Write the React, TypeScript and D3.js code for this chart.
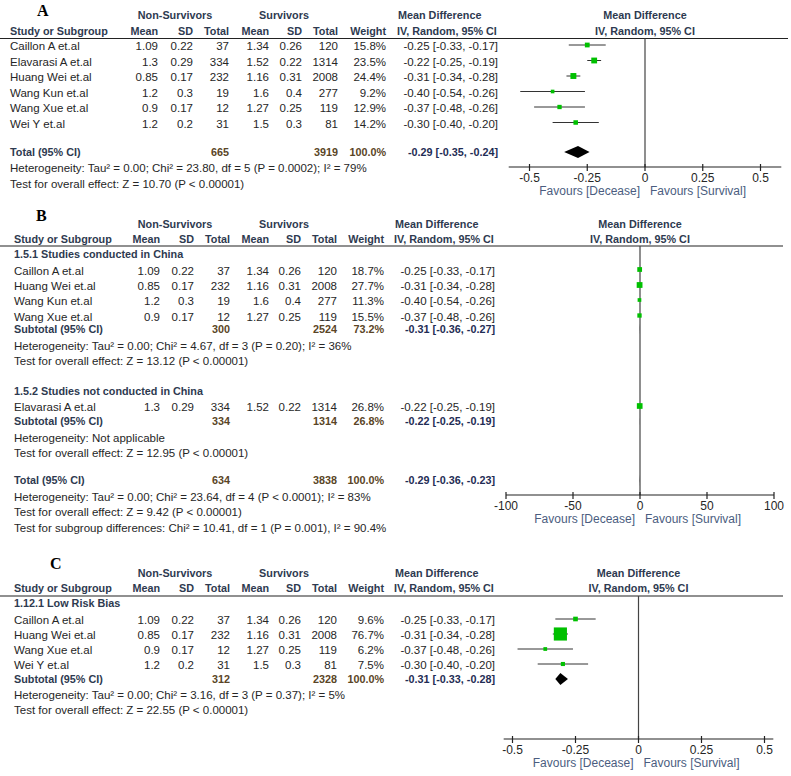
import React from 'react';
import * as d3 from 'd3';

// ---------- Panel A data ----------
const studiesA = ['Caillon A et.al', 'Elavarasi A et.al', 'Huang Wei et.al', 'Wang Kun et.al', 'Wang Xue et.al', 'Wei Y et.al'];
const nsMeanA = [1.09, 1.3, 0.85, 1.2, 0.9, 1.2];
const nsSdA = [0.22, 0.29, 0.17, 0.3, 0.17, 0.2];
const nsTotalA = [37, 334, 232, 19, 12, 31];
const sMeanA = [1.34, 1.52, 1.16, 1.6, 1.27, 1.5];
const sSdA = [0.26, 0.22, 0.31, 0.4, 0.25, 0.3];
const sTotalA = [120, 1314, 2008, 277, 119, 81];
const weightA = [15.8, 23.5, 24.4, 9.2, 12.9, 14.2];
const mdA = [-0.25, -0.22, -0.31, -0.4, -0.37, -0.3];
const loA = [-0.33, -0.25, -0.34, -0.54, -0.48, -0.4];
const hiA = [-0.17, -0.19, -0.28, -0.26, -0.26, -0.2];
const totalA = { nsTotal: 665, sTotal: 3919, weight: 100.0, md: -0.29, lo: -0.35, hi: -0.24 };
const notesA = [
  'Heterogeneity: Tau\u00B2 = 0.00; Chi\u00B2 = 23.80, df = 5 (P = 0.0002); I\u00B2 = 79%',
  'Test for overall effect: Z = 10.70 (P < 0.00001)',
];
const ticksA = [-0.5, -0.25, 0, 0.25, 0.5];

// ---------- Panel B data ----------
const groupB1 = '1.5.1 Studies conducted in China';
const studiesB1 = ['Caillon A et.al', 'Huang Wei et.al', 'Wang Kun et.al', 'Wang Xue et.al'];
const nsMeanB1 = [1.09, 0.85, 1.2, 0.9];
const nsSdB1 = [0.22, 0.17, 0.3, 0.17];
const nsTotalB1 = [37, 232, 19, 12];
const sMeanB1 = [1.34, 1.16, 1.6, 1.27];
const sSdB1 = [0.26, 0.31, 0.4, 0.25];
const sTotalB1 = [120, 2008, 277, 119];
const weightB1 = [18.7, 27.7, 11.3, 15.5];
const mdB1 = [-0.25, -0.31, -0.4, -0.37];
const loB1 = [-0.33, -0.34, -0.54, -0.48];
const hiB1 = [-0.17, -0.28, -0.26, -0.26];
const subB1 = { nsTotal: 300, sTotal: 2524, weight: 73.2, md: -0.31, lo: -0.36, hi: -0.27 };
const notesB1 = [
  'Heterogeneity: Tau\u00B2 = 0.00; Chi\u00B2 = 4.67, df = 3 (P = 0.20); I\u00B2 = 36%',
  'Test for overall effect: Z = 13.12 (P < 0.00001)',
];
const groupB2 = '1.5.2 Studies not conducted in China';
const studiesB2 = ['Elavarasi A et.al'];
const nsMeanB2 = [1.3];
const nsSdB2 = [0.29];
const nsTotalB2 = [334];
const sMeanB2 = [1.52];
const sSdB2 = [0.22];
const sTotalB2 = [1314];
const weightB2 = [26.8];
const mdB2 = [-0.22];
const loB2 = [-0.25];
const hiB2 = [-0.19];
const subB2 = { nsTotal: 334, sTotal: 1314, weight: 26.8, md: -0.22, lo: -0.25, hi: -0.19 };
const notesB2 = ['Heterogeneity: Not applicable', 'Test for overall effect: Z = 12.95 (P < 0.00001)'];
const totalB = { nsTotal: 634, sTotal: 3838, weight: 100.0, md: -0.29, lo: -0.36, hi: -0.23 };
const notesB = [
  'Heterogeneity: Tau\u00B2 = 0.00; Chi\u00B2 = 23.64, df = 4 (P < 0.0001); I\u00B2 = 83%',
  'Test for overall effect: Z = 9.42 (P < 0.00001)',
  'Test for subgroup differences: Chi\u00B2 = 10.41, df = 1 (P = 0.001), I\u00B2 = 90.4%',
];
const ticksB = [-100, -50, 0, 50, 100];

// ---------- Panel C data ----------
const groupC = '1.12.1 Low Risk Bias';
const studiesC = ['Caillon A et.al', 'Huang Wei et.al', 'Wang Xue et.al', 'Wei Y et.al'];
const nsMeanC = [1.09, 0.85, 0.9, 1.2];
const nsSdC = [0.22, 0.17, 0.17, 0.2];
const nsTotalC = [37, 232, 12, 31];
const sMeanC = [1.34, 1.16, 1.27, 1.5];
const sSdC = [0.26, 0.31, 0.25, 0.3];
const sTotalC = [120, 2008, 119, 81];
const weightC = [9.6, 76.7, 6.2, 7.5];
const mdC = [-0.25, -0.31, -0.37, -0.3];
const loC = [-0.33, -0.34, -0.48, -0.4];
const hiC = [-0.17, -0.28, -0.26, -0.2];
const subC = { nsTotal: 312, sTotal: 2328, weight: 100.0, md: -0.31, lo: -0.33, hi: -0.28 };
const notesC = [
  'Heterogeneity: Tau\u00B2 = 0.00; Chi\u00B2 = 3.16, df = 3 (P = 0.37); I\u00B2 = 5%',
  'Test for overall effect: Z = 22.55 (P < 0.00001)',
];
const ticksC = [-0.5, -0.25, 0, 0.25, 0.5];

// ---------- styles ----------
const FONT = '"Liberation Sans", Arial, sans-serif';
const SERIF = '"Liberation Serif", "Times New Roman", serif';
const HDR = '#2e3a50';
const TXT = '#262626';
const TOTN = '#5a4526';
const TOTCI = '#1f2d55';
const FAV = '#4b5d80';
const GREEN = '#00c000';
const LINE = '#333';
const FS = 11.5;
const FSB = 10.8;

type Study = {
  name: string; nsMean: number; nsSd: number; nsTotal: number;
  sMean: number; sSd: number; sTotal: number; weight: number;
  md: number; lo: number; hi: number;
};
type Summary = { nsTotal: number; sTotal: number; weight: number; md: number; lo: number; hi: number };

function makeStudies(names: string[], a: number[], b: number[], c: number[], d: number[], e: number[], f: number[], w: number[], md: number[], lo: number[], hi: number[]): Study[] {
  return names.map((name, i) => ({
    name, nsMean: a[i], nsSd: b[i], nsTotal: c[i], sMean: d[i], sSd: e[i], sTotal: f[i],
    weight: w[i], md: md[i], lo: lo[i], hi: hi[i],
  }));
}

type Row =
  | { kind: 'study'; y: number; s: Study }
  | { kind: 'group'; y: number; label: string }
  | { kind: 'summary'; y: number; label: string; s: Summary }
  | { kind: 'note'; y: number; label: string };

type PanelCfg = {
  letter: string; letterX: number; letterY: number;
  textX: number; cols: number[];
  yGroupHdr: number; yColHdr: number; yLine: number; lineX2: number;
  domain: [number, number]; range: [number, number]; extent: [number, number];
  axisY: number; ticks: number[]; sizeK: number;
  rows: Row[];
};

const fmtCI = (m: number, l: number, h: number) => `${m.toFixed(2)} [${l.toFixed(2)}, ${h.toFixed(2)}]`;

function Panel({ cfg }: { cfg: PanelCfg }) {
  const x = d3.scaleLinear().domain(cfg.domain).range(cfg.range);
  const c = cfg.cols;
  const zero = x(0);
  const fmtTick = (v: number) => (v === 0 ? '0' : String(v));
  const els: React.ReactNode[] = [];
  cfg.rows.forEach((r, i) => {
    const b = r.y + 4;
    if (r.kind === 'group') {
      els.push(<text key={i} x={cfg.textX} y={b} fontWeight="bold" fontSize={FSB} fill={HDR}>{r.label}</text>);
    } else if (r.kind === 'note') {
      els.push(<text key={i} x={cfg.textX} y={b} fontSize={FS} fill={TXT}>{r.label}</text>);
    } else if (r.kind === 'study') {
      const s = r.s;
      const side = cfg.sizeK * Math.sqrt(s.weight);
      els.push(
        <g key={i} fontSize={FS} fill={TXT}>
          <text x={cfg.textX} y={b}>{s.name}</text>
          <text x={c[0]} y={b} textAnchor="end">{String(s.nsMean)}</text>
          <text x={c[1]} y={b} textAnchor="end">{String(s.nsSd)}</text>
          <text x={c[2]} y={b} textAnchor="end">{String(s.nsTotal)}</text>
          <text x={c[3]} y={b} textAnchor="end">{String(s.sMean)}</text>
          <text x={c[4]} y={b} textAnchor="end">{String(s.sSd)}</text>
          <text x={c[5]} y={b} textAnchor="end">{String(s.sTotal)}</text>
          <text x={c[6]} y={b} textAnchor="end">{s.weight.toFixed(1) + '%'}</text>
          <text x={c[7]} y={b} textAnchor="end">{fmtCI(s.md, s.lo, s.hi)}</text>
          <line x1={x(s.lo)} x2={x(s.hi)} y1={r.y - 1} y2={r.y - 1} stroke={LINE} strokeWidth={1} />
          <rect x={x(s.md) - side / 2} y={r.y - 1 - side / 2} width={side} height={side} fill={GREEN} />
        </g>
      );
    } else {
      const s = r.s;
      const h = 6;
      const yy = r.y;
      els.push(
        <g key={i} fontSize={FSB} fontWeight="bold">
          <text x={cfg.textX} y={b} fill={HDR}>{r.label}</text>
          <text x={c[2]} y={b} textAnchor="end" fill={TOTN}>{String(s.nsTotal)}</text>
          <text x={c[5]} y={b} textAnchor="end" fill={TOTN}>{String(s.sTotal)}</text>
          <text x={c[6]} y={b} textAnchor="end" fill={TOTN}>{s.weight.toFixed(1) + '%'}</text>
          <text x={c[7]} y={b} textAnchor="end" fill={TOTCI}>{fmtCI(s.md, s.lo, s.hi)}</text>
          <path d={`M${x(s.lo)},${yy} L${x(s.md)},${yy - h} L${x(s.hi)},${yy} L${x(s.md)},${yy + h} Z`} fill="#000" />
        </g>
      );
    }
  });

  return (
    <g fontFamily={FONT}>
      <text x={cfg.letterX} y={cfg.letterY} fontFamily={SERIF} fontWeight="bold" fontSize={16} fill="#000">{cfg.letter}</text>
      <g fontWeight="bold" fontSize={FSB} fill={HDR}>
        <text x={175} y={cfg.yGroupHdr + 4} textAnchor="middle">Non-Survivors</text>
        <text x={284} y={cfg.yGroupHdr + 4} textAnchor="middle">Survivors</text>
        <text x={c[7] - 100} y={cfg.yGroupHdr + 4}>Mean Difference</text>
        <text x={zero} y={cfg.yGroupHdr + 4} textAnchor="middle">Mean Difference</text>
        <text x={cfg.textX} y={cfg.yColHdr + 4}>Study or Subgroup</text>
        <text x={c[0]} y={cfg.yColHdr + 4} textAnchor="end">Mean</text>
        <text x={c[1]} y={cfg.yColHdr + 4} textAnchor="end">SD</text>
        <text x={c[2]} y={cfg.yColHdr + 4} textAnchor="end">Total</text>
        <text x={c[3]} y={cfg.yColHdr + 4} textAnchor="end">Mean</text>
        <text x={c[4]} y={cfg.yColHdr + 4} textAnchor="end">SD</text>
        <text x={c[5]} y={cfg.yColHdr + 4} textAnchor="end">Total</text>
        <text x={c[6]} y={cfg.yColHdr + 4} textAnchor="end">Weight</text>
        <text x={c[7] - 101} y={cfg.yColHdr + 4}>IV, Random, 95% CI</text>
        <text x={zero} y={cfg.yColHdr + 4} textAnchor="middle">IV, Random, 95% CI</text>
      </g>
      <line x1={0} x2={cfg.lineX2} y1={cfg.yLine} y2={cfg.yLine} stroke="#222" strokeWidth={1.2} />
      <line x1={zero} x2={zero} y1={cfg.yLine} y2={cfg.axisY} stroke="#444" strokeWidth={1.2} />
      {els}
      <line x1={x(cfg.extent[0])} x2={x(cfg.extent[1])} y1={cfg.axisY} y2={cfg.axisY} stroke="#222" strokeWidth={1.2} />
      {cfg.ticks.map((t) => (
        <g key={t}>
          <line x1={x(t)} x2={x(t)} y1={cfg.axisY - 3} y2={cfg.axisY + 4} stroke="#222" strokeWidth={1.2} />
          <text x={x(t)} y={cfg.axisY + 15} textAnchor="middle" fontSize={12} fill={TXT}>{fmtTick(t)}</text>
        </g>
      ))}
      <text x={zero - 5} y={cfg.axisY + 28} textAnchor="end" fontSize={12} fill={FAV}>Favours [Decease]</text>
      <text x={zero + 5} y={cfg.axisY + 28} fontSize={12} fill={FAV}>Favours [Survival]</text>
    </g>
  );
}

const sA = makeStudies(studiesA, nsMeanA, nsSdA, nsTotalA, sMeanA, sSdA, sTotalA, weightA, mdA, loA, hiA);
const sB1 = makeStudies(studiesB1, nsMeanB1, nsSdB1, nsTotalB1, sMeanB1, sSdB1, sTotalB1, weightB1, mdB1, loB1, hiB1);
const sB2 = makeStudies(studiesB2, nsMeanB2, nsSdB2, nsTotalB2, sMeanB2, sSdB2, sTotalB2, weightB2, mdB2, loB2, hiB2);
const sC = makeStudies(studiesC, nsMeanC, nsSdC, nsTotalC, sMeanC, sSdC, sTotalC, weightC, mdC, loC, hiC);

const yA = [46, 61.5, 77, 92.5, 108, 123.5];
const cfgA: PanelCfg = {
  letter: 'A', letterX: 37, letterY: 16, textX: 10,
  cols: [158, 193, 229, 269, 302, 338, 386, 498],
  yGroupHdr: 15, yColHdr: 31, yLine: 38.5, lineX2: 788,
  domain: [-0.5, 0.5], range: [529.5, 760.5], extent: [-0.59, 0.59],
  axisY: 167, ticks: ticksA, sizeK: 1.2,
  rows: [
    ...sA.map((s, i) => ({ kind: 'study' as const, y: yA[i], s })),
    { kind: 'summary', y: 152, label: 'Total (95% CI)', s: totalA },
    { kind: 'note', y: 168, label: notesA[0] },
    { kind: 'note', y: 184, label: notesA[1] },
  ],
};

const yB1 = [270.5, 286, 301, 316.5];
const cfgB: PanelCfg = {
  letter: 'B', letterX: 36, letterY: 221, textX: 14,
  cols: [160, 194, 230, 269, 301, 337, 384, 495],
  yGroupHdr: 224, yColHdr: 239, yLine: 246, lineX2: 783,
  domain: [-100, 100], range: [506, 774], extent: [-100, 100],
  axisY: 495, ticks: ticksB, sizeK: 1.1,
  rows: [
    { kind: 'group', y: 254, label: groupB1 },
    ...sB1.map((s, i) => ({ kind: 'study' as const, y: yB1[i], s })),
    { kind: 'summary', y: 329, label: 'Subtotal (95% CI)', s: subB1 },
    { kind: 'note', y: 346, label: notesB1[0] },
    { kind: 'note', y: 361, label: notesB1[1] },
    { kind: 'group', y: 391, label: groupB2 },
    ...sB2.map((s) => ({ kind: 'study' as const, y: 407, s })),
    { kind: 'summary', y: 421, label: 'Subtotal (95% CI)', s: subB2 },
    { kind: 'note', y: 438, label: notesB2[0] },
    { kind: 'note', y: 453, label: notesB2[1] },
    { kind: 'summary', y: 480, label: 'Total (95% CI)', s: totalB },
    { kind: 'note', y: 497, label: notesB[0] },
    { kind: 'note', y: 512, label: notesB[1] },
    { kind: 'note', y: 528, label: notesB[2] },
  ],
};

const yC = [620, 635, 650, 665];
const cfgC: PanelCfg = {
  letter: 'C', letterX: 50, letterY: 569, textX: 14,
  cols: [160, 194, 230, 269, 301, 337, 384, 495],
  yGroupHdr: 573, yColHdr: 588, yLine: 596, lineX2: 783,
  domain: [-0.5, 0.5], range: [512.5, 764.5], extent: [-0.535, 0.535],
  axisY: 739, ticks: ticksC, sizeK: 1.5,
  rows: [
    { kind: 'group', y: 603, label: groupC },
    ...sC.map((s, i) => ({ kind: 'study' as const, y: yC[i], s })),
    { kind: 'summary', y: 679, label: 'Subtotal (95% CI)', s: subC },
    { kind: 'note', y: 695, label: notesC[0] },
    { kind: 'note', y: 710, label: notesC[1] },
  ],
};

export default function App() {
  return (
    <svg
      width={791}
      height={776}
      style={{ position: 'absolute', left: 0, top: 0, display: 'block', background: '#fff' }}
    >
      <rect width={791} height={776} fill="#fff" />
      <Panel cfg={cfgA} />
      <Panel cfg={cfgB} />
      <Panel cfg={cfgC} />
    </svg>
  );
}
